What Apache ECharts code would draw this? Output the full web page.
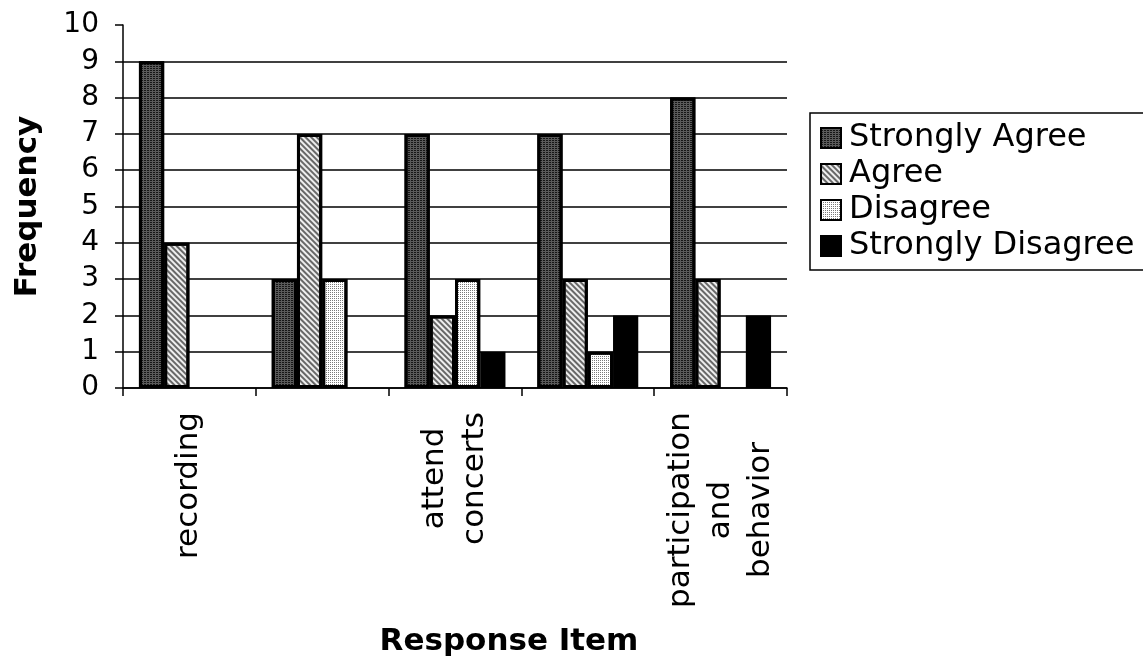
<!DOCTYPE html>
<html>
<head>
<meta charset="utf-8">
<script src="https://cdn.jsdelivr.net/npm/echarts@6/dist/echarts.min.js"></script>
<style>
  html, body { margin: 0; padding: 0; background: #fff; }
  #chart { width: 1143px; height: 667px; }
</style>
</head>
<body>
<div id="chart"></div>
<script>
// ---- data ----
const categories = ['recording', '', 'attend\nconcerts', '', 'participation\nand\nbehavior'];
const seriesNames = ['Strongly Agree', 'Agree', 'Disagree', 'Strongly Disagree'];
const stronglyAgree = [9, 3, 7, 7, 8];
const agree = [4, 7, 2, 3, 3];
const disagree = [0, 3, 3, 1, 0];
const stronglyDisagree = [0, 0, 1, 2, 2];
const yMin = 0, yMax = 10, yStep = 1;
const xTitle = 'Response Item';
const yTitle = 'Frequency';

// ---- styling ----
const FONT = '"DejaVu Sans", Verdana, sans-serif';
const LABEL_SIZE = 31;

// measure lines to build centered multi-line rotated labels
const ctx = document.createElement('canvas').getContext('2d');
ctx.font = LABEL_SIZE + 'px "DejaVu Sans"';
const rich = {};
categories.forEach((c, i) => {
  const w = Math.max(1, ...c.split('\n').map(l => ctx.measureText(l).width));
  rich['c' + i] = { width: Math.ceil(w), align: 'center', fontSize: LABEL_SIZE, fontFamily: FONT, lineHeight: 40, color: '#000' };
});

const styles = [
  { color: '#5a5a5a', decal: { symbol: 'rect', symbolSize: 1, color: 'rgba(0,0,0,0.75)', dashArrayX: [2, 1], dashArrayY: [1, 1], rotation: 0 } },
  { color: '#eeeeee', decal: { symbol: 'rect', symbolSize: 1, color: 'rgba(70,70,70,0.8)', dashArrayX: [1, 0], dashArrayY: [2, 2], rotation: Math.PI / 4 } },
  { color: '#ffffff', decal: { symbol: 'rect', symbolSize: 1, color: '#7a7a7a', dashArrayX: [1, 1], dashArrayY: [1, 1], rotation: 0 } },
  { color: '#000000' }
];
const values = [stronglyAgree, agree, disagree, stronglyDisagree];

const chart = echarts.init(document.getElementById('chart'));
chart.setOption({
  animation: false,
  backgroundColor: '#fff',
  grid: { left: 123, right: 356, top: 25, bottom: 279 },
  legend: {
    orient: 'vertical',
    left: 810, top: 113,
    padding: [9, 30, 8, 10],
    itemGap: 4,
    itemWidth: 20, itemHeight: 20,
    icon: 'rect',
    borderColor: '#000', borderWidth: 1.5,
    itemStyle: { borderColor: '#000', borderWidth: 2 },
    textStyle: { fontFamily: FONT, fontSize: 32, color: '#000', padding: [0, 0, 0, 3] },
    data: seriesNames
  },
  xAxis: {
    type: 'category',
    data: categories,
    name: xTitle,
    nameLocation: 'middle',
    nameGap: 238,
    nameTextStyle: { fontFamily: FONT, fontSize: 31, fontWeight: 'bold', color: '#000', padding: [0, 0, 0, 108] },
    axisLine: { lineStyle: { color: '#000', width: 1.5 } },
    axisTick: { show: true, interval: 0, length: 8, lineStyle: { color: '#000', width: 1.5 } },
    axisLabel: {
      interval: 0, rotate: 90, margin: 24,
      formatter: (v, i) => v ? v.split('\n').map(l => '{c' + i + '|' + l + '}').join('\n') : '',
      rich: rich
    },
    splitLine: { show: false }
  },
  yAxis: {
    type: 'value',
    min: yMin, max: yMax, interval: yStep,
    name: yTitle,
    nameLocation: 'middle',
    nameGap: 80,
    nameTextStyle: { fontFamily: FONT, fontSize: 31, fontWeight: 'bold', color: '#000' },
    axisLine: { show: true, lineStyle: { color: '#000', width: 1.5 } },
    axisTick: { show: true, length: 8, lineStyle: { color: '#000', width: 1.5 } },
    axisLabel: { fontFamily: FONT, fontSize: 28, color: '#000', margin: 24 },
    splitLine: { show: true, showMaxLine: false, lineStyle: { color: '#000', width: 1.6 } }
  },
  series: seriesNames.map((n, k) => ({
    name: n,
    type: 'bar',
    data: values[k].map(v => v === 0 ? { value: v, itemStyle: { borderWidth: 0 } } : v),
    barGap: '0%',
    barCategoryGap: '24%',
    itemStyle: Object.assign({ borderColor: '#000', borderWidth: 3 }, styles[k])
  }))
});
</script>
</body>
</html>
